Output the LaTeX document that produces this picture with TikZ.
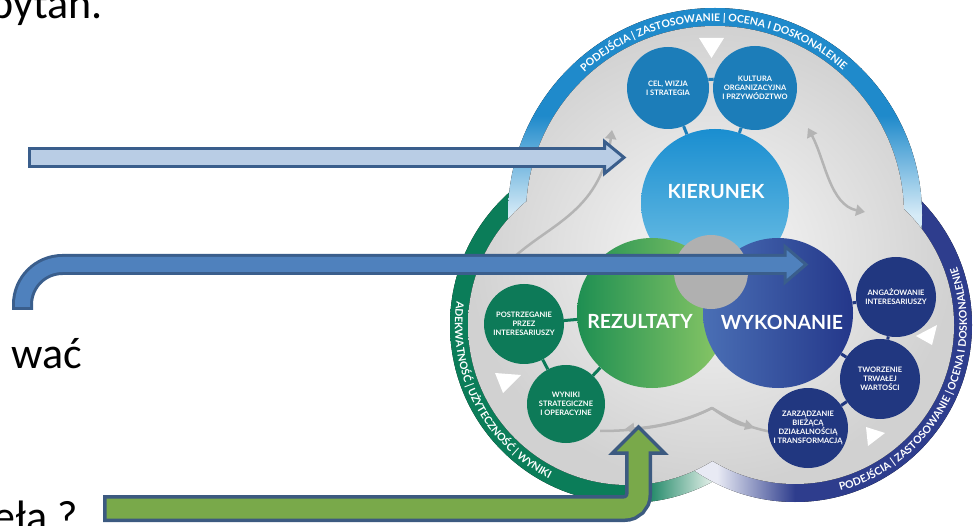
\documentclass[tikz,border=0pt]{standalone}
\usepackage{fontspec}
\setmainfont{Carlito}
\newfontfamily\lato{Lato}
\usetikzlibrary{decorations.text,arrows.meta}
\definecolor{tD}{HTML}{1F8ACB}
\definecolor{tL}{HTML}{D6EBF7}
\definecolor{gD}{HTML}{0B7D59}
\definecolor{gL}{HTML}{E8F2EC}
\definecolor{pD}{HTML}{2E3D8D}
\definecolor{pL}{HTML}{E8EAF4}
\definecolor{kirA}{HTML}{1A8ED0}
\definecolor{kirB}{HTML}{72C2E6}
\definecolor{rezA}{HTML}{1E8F52}
\definecolor{rezB}{HTML}{8CC866}
\definecolor{wykA}{HTML}{4A6FB5}
\definecolor{wykB}{HTML}{24378A}
\definecolor{smT}{HTML}{1C7DB9}
\definecolor{smR}{HTML}{213780}
\definecolor{smL}{HTML}{0D7A58}
\definecolor{arBd}{HTML}{3A5E8C}
\definecolor{arLt}{HTML}{B9CDE5}
\definecolor{arMd}{HTML}{4F81BD}
\definecolor{arGr}{HTML}{79A94A}
\definecolor{arGrBd}{HTML}{3C5A80}
\definecolor{cycG}{HTML}{B4B4B4}
\pgfdeclareverticalshading{topring}{100bp}{color(0bp)=(tL); color(50bp)=(tL); color(62bp)=(tD); color(100bp)=(tD)}
\pgfdeclarehorizontalshading{leftring}{100bp}{color(0bp)=(gD); color(52bp)=(gD); color(62bp)=(gL); color(100bp)=(gL)}
\pgfdeclarehorizontalshading{rightring}{100bp}{color(0bp)=(pL); color(39bp)=(pL); color(50bp)=(pD); color(100bp)=(pD)}
\newcommand\ringfont{\lato\bfseries\fontsize{10.5}{10.5}\selectfont}
\begin{document}
\begin{tikzpicture}[x=1pt,y=1pt,
  slidetxt/.style={inner sep=0, font=\fontsize{44}{48}\selectfont},
  bigc/.style={circle, inner sep=0, draw=none},
  biglbl/.style={inner sep=0, text=white, font=\lato\bfseries\fontsize{19.5}{19.5}\selectfont},
  smc/.style={circle, inner sep=0, align=center, text=white, font=\lato\bfseries\fontsize{7.5}{9}\selectfont},
  connT/.style={smT, line width=3},
  connR/.style={smR, line width=3},
  connL/.style={smL, line width=3},
  cyc/.style={cycG, line width=2.5, -{Triangle[length=9pt,width=11pt]}},
  cycb/.style={cycG, line width=2.5, {Triangle[length=9pt,width=11pt]}-{Triangle[length=9pt,width=11pt]}},
  cycp/.style={cycG, line width=2.5},
  tri/.style={fill=white, draw=none},
  ringtxt/.style={decorate, decoration={text along path, text color=white, text align=center}}
]
\useasboundingbox (0,0) rectangle (974,525);

% slide text fragments
\node[slidetxt, anchor=base east] (t1) at (103,506) {bytan.};
\node[slidetxt, anchor=base east] (t2) at (82,157) {wać};
\node[slidetxt, anchor=base east] (t3) at (78,-6) {eła ?};

% outer lobes (rings)
\fill[shading=leftring] (628,200) circle (178);
\fill[shading=rightring] (795,200) circle (177);
\fill[shading=topring] (715,310) circle (207);
% inner grey area
\fill[inner color=gray!5, outer color=gray!36] (715,310) circle (189) (628,200) circle (160) (795,200) circle (159);

% ring texts
\path[ringtxt, decoration={text={|\ringfont|PODEJŚCIA {\textbar} ZASTOSOWANIE {\textbar} OCENA I DOSKONALENIE}}]
  (715,310) ++(150:193.5) arc[start angle=150, end angle=31, radius=193.5];
\path[ringtxt, decoration={text={|\ringfont|PODEJŚCIA {\textbar} ZASTOSOWANIE {\textbar} OCENA I DOSKONALENIE}}]
  (795,200) ++(-97:172) arc[start angle=-97, end angle=42, radius=172];
\path[ringtxt, decoration={text={|\ringfont|ADEKWATNOŚĆ {\textbar} UŻYTECZNOŚĆ {\textbar} WYNIKI}}]
  (628,200) ++(150:173) arc[start angle=150, end angle=265, radius=173];

% white triangles
\fill[tri] (699,487) -- (724,487) -- (711.5,467) -- cycle;
\fill[tri] (495,152) -- (521,150) -- (503,132) -- cycle;
\fill[tri] (937,200) -- (932,180) -- (916,189) -- cycle;
\fill[tri] (866,98) -- (868,79) -- (885,92) -- cycle;

% grey cycle arrows
\coordinate (c1a) at (508,262);
\coordinate (c1b) at (612,395);
\draw[cyc] (c1a) .. controls (545,300) and (600,310) .. (c1b);
\coordinate (c2a) at (808,397);
\coordinate (c2b) at (865,313);
\draw[cycb] (c2a) .. controls (825,365) and (830,320) .. (c2b);
\coordinate (c3m) at (712,117);
\coordinate (c3l) at (600,94);
\coordinate (c3r) at (786,92);
\draw[cycp] (c3m) .. controls (680,100) and (640,94) .. (c3l);
\draw[cyc] (c3m) .. controls (690,106) and (660,98) .. (625,96);
\draw[cycp] (c3m) .. controls (740,100) and (765,92) .. (c3r);
\draw[cyc] (c3m) .. controls (730,104) and (745,96) .. (744,95);

% big circles
\node[bigc, minimum size=148, top color=kirA, bottom color=kirB] (kier) at (715,322) {};
\node[bigc, minimum size=150, left color=rezA, right color=rezB] (rez) at (652,212) {};
\node[bigc, minimum size=150, left color=wykA, right color=wykB] (wyk) at (778,212) {};
\node[bigc, minimum size=74, fill=gray!62] (org) at (711,253) {};
\node[inner sep=0, text=white, font=\lato\bfseries\fontsize{8}{8}\selectfont, anchor=base] (orgT) at (711,250) {ORGANIZACJA};
\node[biglbl] (kierT) at (716,333) {KIERUNEK};
\node[biglbl] (rezT) at (640,203) {REZULTATY};
\node[biglbl] (wykT) at (782,203) {WYKONANIE};

% small circles
\node[smc, minimum size=82, fill=smT] (cel) at (668,437) {CEL, WIZJA\\I STRATEGIA};
\node[smc, minimum size=84, fill=smT] (kul) at (755,437) {KULTURA\\ORGANIZACYJNA\\I PRZYWÓDZTWO};
\node[smc, minimum size=80, fill=smR] (ang) at (896,228) {ANGAŻOWANIE\\INTERESARIUSZY};
\node[smc, minimum size=80, fill=smR] (two) at (880,146) {TWORZENIE\\TRWAŁEJ\\WARTOŚCI};
\node[smc, minimum size=80, fill=smR] (zar) at (808,97) {ZARZĄDZANIE\\BIEŻĄCĄ\\DZIAŁALNOŚCIĄ\\I TRANSFORMACJĄ};
\node[smc, minimum size=80, fill=smL] (pos) at (524,201) {POSTRZEGANIE\\PRZEZ\\INTERESARIUSZY};
\node[smc, minimum size=78, fill=smL] (wyn) at (566,121) {WYNIKI\\STRATEGICZNE\\I OPERACYJNE};

% connectors
\draw[connT] (cel) -- (kier);
\draw[connT] (kul) -- (kier);
\draw[connT] (cel.12) -- (kul.168);
\draw[connR] (ang) -- (wyk);
\draw[connR] (ang) -- (two);
\draw[connR] (two) -- (wyk);
\draw[connR] (two) -- (zar);
\draw[connL] (pos) -- (rez);
\draw[connL] (pos) -- (wyn);
\draw[connL] (wyn) -- (rez);

% block arrow 1 (light blue, straight)
\coordinate (a1s) at (28,367.5);
\coordinate (a1b) at (604.5,367.5);
\coordinate (a1t) at (624,367.5);
\draw[arBd, line width=21] (a1s) -- (a1b);
\filldraw[fill=arLt, draw=arBd, line width=3, line join=miter] ([yshift=16]a1b) -- (a1t) -- ([yshift=-16]a1b) -- cycle;
\draw[arLt, line width=15] ([xshift=3]a1s) -- ([xshift=2]a1b);

% block arrow 2 (blue, hooked)
\coordinate (a2s) at (22.5,215);
\coordinate (a2b) at (785,260.5);
\coordinate (a2t) at (806,260.5);
\draw[arBd, line width=21] (a2s) -- (22.5,220.5) arc[start angle=180, end angle=90, radius=40] -- (a2b);
\filldraw[fill=arMd, draw=arBd, line width=3, line join=miter] ([yshift=18]a2b) -- (a2t) -- ([yshift=-18]a2b) -- cycle;
\draw[arMd, line width=15] ([yshift=3]a2s) -- (22.5,220.5) arc[start angle=180, end angle=90, radius=40] -- ([xshift=2]a2b);

% block arrow 3 (green, bent up)
\coordinate (a3s) at (103,16.5);
\coordinate (a3b) at (638.5,72);
\coordinate (a3t) at (638.5,98);
\draw[arGrBd, line width=27] (a3s) -- (624.5,16.5) arc[start angle=-90, end angle=0, radius=14] -- (a3b);
\filldraw[fill=arGr, draw=arGrBd, line width=3.5, line join=miter] ([xshift=-26]a3b) -- (a3t) -- ([xshift=26]a3b) -- cycle;
\draw[arGr, line width=20] ([xshift=3.5]a3s) -- (624.5,16.5) arc[start angle=-90, end angle=0, radius=14] -- ([yshift=2]a3b);
\end{tikzpicture}
\end{document}
